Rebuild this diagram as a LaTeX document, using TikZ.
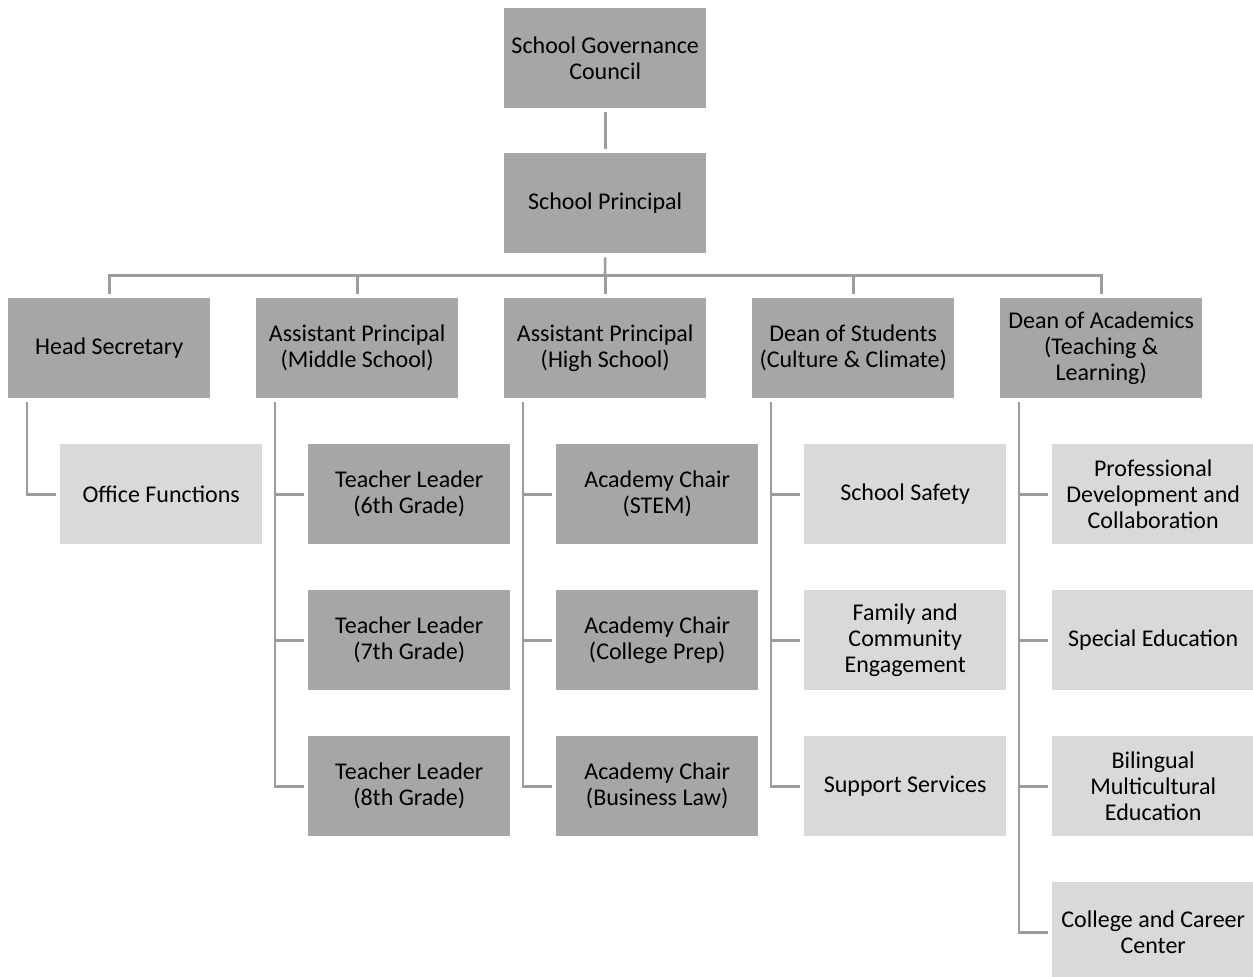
\documentclass[tikz,border=0pt]{standalone}
\usepackage{fontspec}
\setmainfont{Carlito}
\definecolor{darkbox}{HTML}{A6A6A6}
\definecolor{lightbox}{HTML}{D9D9D9}
\definecolor{linkc}{HTML}{9C9C9C}
\begin{document}
\begin{tikzpicture}[x=1pt,y=-1pt,
  box/.style={minimum width=202pt,minimum height=100pt,inner sep=0pt,align=center,
    font=\fontsize{24}{26}\selectfont,anchor=north west,text=black},
  dbox/.style={box,fill=darkbox},
  lbox/.style={box,fill=lightbox},
  link/.style={draw=linkc,line width=2.6pt}]
\useasboundingbox (0,0) rectangle (1253,977);

\node[dbox] (gc) at (504,8) {School Governance\\Council};
\node[dbox] (pr) at (504,153) {School Principal};

\node[dbox] (hs) at (8,298) {Head Secretary};
\node[dbox] (apm) at (256,298) {Assistant Principal\\(Middle School)};
\node[dbox] (aph) at (504,298) {Assistant Principal\\(High School)};
\node[dbox] (ds) at (752,298) {Dean of Students\\(Culture \& Climate)};
\node[dbox] (da) at (1000,298) {Dean of Academics\\(Teaching \&\\Learning)};

\node[lbox] (of) at (60,444) {Office Functions};

\node[dbox] (t6) at (308,444) {Teacher Leader\\(6th Grade)};
\node[dbox] (t7) at (308,590) {Teacher Leader\\(7th Grade)};
\node[dbox] (t8) at (308,736) {Teacher Leader\\(8th Grade)};

\node[dbox] (ac1) at (556,444) {Academy Chair\\(STEM)};
\node[dbox] (ac2) at (556,590) {Academy Chair\\(College Prep)};
\node[dbox] (ac3) at (556,736) {Academy Chair\\(Business Law)};

\node[lbox] (ss) at (804,444) {School Safety};
\node[lbox] (fc) at (804,590) {Family and\\Community\\Engagement};
\node[lbox] (sv) at (804,736) {Support Services};

\node[lbox] (pd) at (1052,444) {Professional\\Development and\\Collaboration};
\node[lbox] (se) at (1052,590) {Special Education};
\node[lbox] (bm) at (1052,736) {Bilingual\\Multicultural\\Education};
\node[lbox] (cc) at (1052,882) {College and Career\\Center};

% top links
\draw[link] ([yshift=-4pt]gc.south) -- ([yshift=4pt]pr.north);
\coordinate (bus) at (605,275.5);
\draw[link] ([yshift=-4pt]pr.south) -- (bus);
\foreach \n in {hs,apm,aph,ds,da}
  \draw[link] ([yshift=4pt]\n.north) |- (bus);

% child links
\draw[link] ([xshift=19pt,yshift=-4pt]hs.south west) |- ([xshift=-4pt]of.west);
\foreach \c in {t6,t7,t8}
  \draw[link] ([xshift=19pt,yshift=-4pt]apm.south west) |- ([xshift=-4pt]\c.west);
\foreach \c in {ac1,ac2,ac3}
  \draw[link] ([xshift=19pt,yshift=-4pt]aph.south west) |- ([xshift=-4pt]\c.west);
\foreach \c in {ss,fc,sv}
  \draw[link] ([xshift=19pt,yshift=-4pt]ds.south west) |- ([xshift=-4pt]\c.west);
\foreach \c in {pd,se,bm,cc}
  \draw[link] ([xshift=19pt,yshift=-4pt]da.south west) |- ([xshift=-4pt]\c.west);
\end{tikzpicture}
\end{document}
